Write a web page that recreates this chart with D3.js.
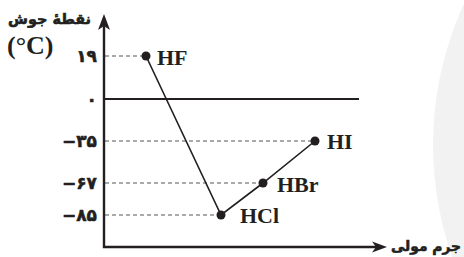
<!DOCTYPE html>
<html>
<head>
<meta charset="utf-8">
<script src="https://cdn.jsdelivr.net/npm/d3@7"></script>
<style>
  body { margin: 0; background: #fff; }
  svg { display: block; }
</style>
</head>
<body>
<script>
// chart data
var compounds = ["HF", "HCl", "HBr", "HI"];
var molarMass = [20, 36.5, 81, 128];
var boilingPoint = [19, -85, -67, -35];
var yTicks = [19, 0, -35, -67, -85];
var yTickLabels = ["۱۹", "۰", "−۳۵", "−۶۷", "−۸۵"];
var yTitle = "نقطهٔ جوش";
var yUnit = "(°C)";
var xTitle = "جرم مولی";

var width = 464;
var height = 257;
var axisX = 104;
var axisY = 247;
var ink = "#231f20";

var data = compounds.map(function(c, i) {
  return { name: c, mass: molarMass[i], bp: boilingPoint[i] };
});

var svg = d3.select("body").append("svg")
  .attr("width", width)
  .attr("height", height);

// faint watermark disc at the right edge
svg.append("circle")
  .attr("cx", 770)
  .attr("cy", 145)
  .attr("r", 337)
  .attr("fill", "#f2f2f2");

// schematic (not to scale) scales
var xScale = d3.scaleLinear()
  .domain(molarMass)
  .range([146, 221, 263, 315]);

var yScale = d3.scaleLinear()
  .domain(yTicks)
  .range([56, 99, 141, 183, 215]);

// y tick labels
var yAxis = d3.axisLeft(yScale)
  .tickValues(yTicks)
  .tickFormat(function(d, i) { return yTickLabels[i]; })
  .tickSize(0)
  .tickPadding(0);

var yAxisG = svg.append("g")
  .attr("transform", "translate(" + (axisX - 7) + ",0)")
  .call(yAxis);
yAxisG.select(".domain").remove();
yAxisG.selectAll("text")
  .attr("font-family", "DejaVu Sans")
  .attr("font-weight", "bold")
  .attr("font-size", 17)
  .attr("fill", ink)
  .attr("stroke", ink)
  .attr("stroke-width", 0.5);

// dashed guides from the axis to each point
svg.append("g").selectAll("line")
  .data(data)
  .enter()
  .append("line")
    .attr("x1", axisX + 1)
    .attr("x2", d => xScale(d.mass))
    .attr("y1", d => yScale(d.bp))
    .attr("y2", d => yScale(d.bp))
    .attr("stroke", "#555")
    .attr("stroke-width", 1)
    .attr("stroke-dasharray", "4,3");

// zero line
svg.append("line")
  .attr("x1", axisX)
  .attr("x2", 359)
  .attr("y1", yScale(0))
  .attr("y2", yScale(0))
  .attr("stroke", ink)
  .attr("stroke-width", 2);

// the curve
var line = d3.line()
  .x(d => xScale(d.mass))
  .y(d => yScale(d.bp));

svg.append("path")
  .datum(data)
  .attr("d", line)
  .attr("fill", "none")
  .attr("stroke", ink)
  .attr("stroke-width", 1.6);

svg.append("g").selectAll("circle")
  .data(data)
  .enter()
  .append("circle")
    .attr("cx", d => xScale(d.mass))
    .attr("cy", d => yScale(d.bp))
    .attr("r", 4.5)
    .attr("fill", ink);

// compound labels
var labelOffset = { HF: [11, 9], HCl: [19, 8], HBr: [14, 9], HI: [12, 8] };
svg.append("g").selectAll("text")
  .data(data)
  .enter()
  .append("text")
    .attr("x", d => xScale(d.mass) + labelOffset[d.name][0])
    .attr("y", d => yScale(d.bp) + labelOffset[d.name][1])
    .attr("font-family", "Liberation Serif")
    .attr("font-weight", "bold")
    .attr("font-size", 22)
    .attr("fill", ink)
    .text(d => d.name);

// axes with arrows
svg.append("path")
  .attr("d", "M" + axisX + ",26 L" + axisX + "," + axisY + " L376," + axisY)
  .attr("fill", "none")
  .attr("stroke", ink)
  .attr("stroke-width", 2.4);

svg.append("path")
  .attr("d", "M104,14 L110,30 L104,26 L98,30 Z")
  .attr("fill", ink);

svg.append("path")
  .attr("d", "M387,247 L372,252.5 L376,247 L372,241.5 Z")
  .attr("fill", ink);

// persian titles: sized to fit between leftX and rightX
function rtlText(str, leftX, rightX, baseY) {
  var t = svg.append("text")
    .attr("x", rightX)
    .attr("y", baseY)
    .attr("direction", "rtl")
    .attr("text-anchor", "start")
    .attr("font-family", "DejaVu Sans")
    .attr("font-weight", "bold")
    .attr("font-size", 20)
    .attr("fill", ink)
    .attr("stroke", ink)
    .attr("stroke-width", 0.6)
    .text(str);
  var w = t.node().getComputedTextLength();
  t.attr("font-size", 20 * (rightX - leftX) / w);
  return t;
}

rtlText(yTitle, 8, 91, 24);
rtlText(xTitle, 391, 461, 251);

svg.append("text")
  .attr("x", 7)
  .attr("y", 54)
  .attr("font-family", "Liberation Serif")
  .attr("font-weight", "bold")
  .attr("font-size", 26)
  .attr("fill", ink)
  .text(yUnit);
</script>
</body>
</html>
